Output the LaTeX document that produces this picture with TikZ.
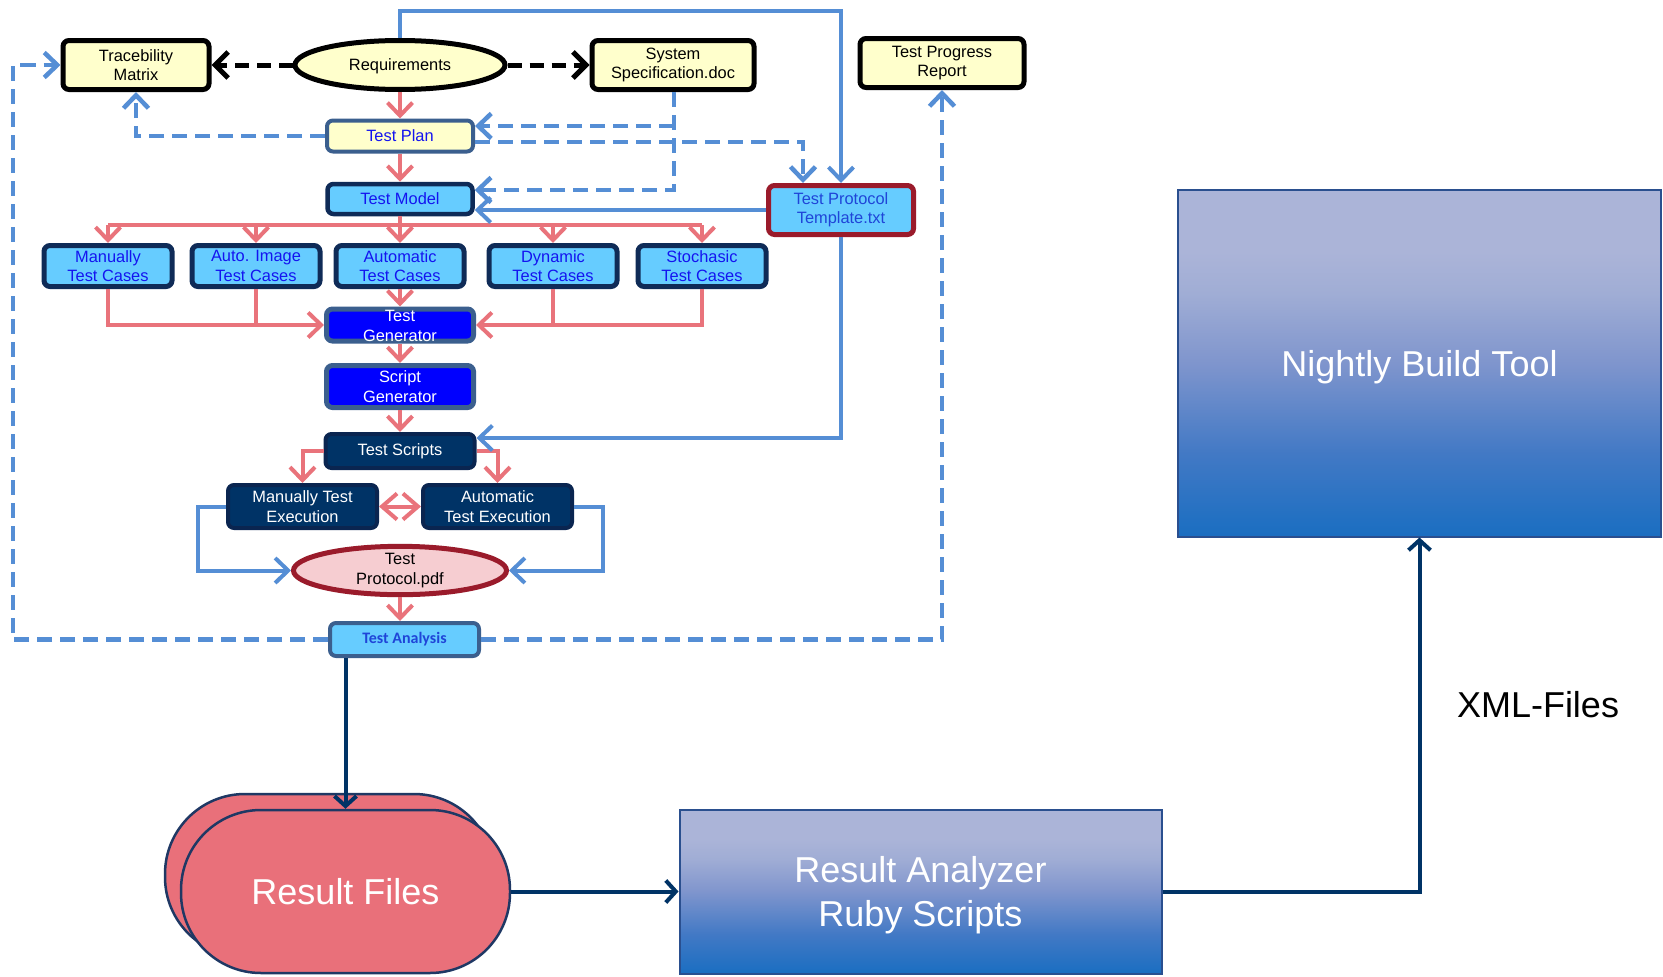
\documentclass[tikz,border=0pt]{standalone}
\usepackage{fontspec}
\setmainfont{Liberation Sans}
\newfontfamily\calfont{Carlito}
\usetikzlibrary{arrows.meta,calc,shapes.geometric}
\definecolor{lyel}{HTML}{FFFFCC}
\definecolor{cyanb}{HTML}{66CCFF}
\definecolor{navyb}{HTML}{0F2B57}
\definecolor{slate}{HTML}{3B5F8E}
\definecolor{pureblue}{HTML}{0000FF}
\definecolor{navyf}{HTML}{003366}
\definecolor{navyd}{HTML}{0A2550}
\definecolor{redc}{HTML}{E9737B}
\definecolor{bluec}{HTML}{558ED5}
\definecolor{dred}{HTML}{9A1B2B}
\definecolor{pinkf}{HTML}{F6CDD1}
\definecolor{tblue}{HTML}{1414F0}
\definecolor{tblue2}{HTML}{1F45D8}
\definecolor{rfill}{HTML}{E9707A}
\definecolor{rborder}{HTML}{1F3864}
\definecolor{arrnavy}{HTML}{003366}
\definecolor{gborder}{HTML}{2A4F8F}
\definecolor{gtop}{HTML}{ABB4D8}
\definecolor{gmidA}{HTML}{A0ADD5}
\definecolor{gmidB}{HTML}{7F95CD}
\definecolor{gmidC}{HTML}{4279C5}
\definecolor{gbot}{HTML}{1A6EC1}
\pgfdeclareverticalshading{nbshade}{100bp}{color(0bp)=(gbot); color(25bp)=(gbot); color(37bp)=(gmidC); color(50bp)=(gmidB); color(60bp)=(gmidA); color(66bp)=(gtop); color(75bp)=(gtop); color(100bp)=(gtop)}
\newcommand\sfn{\fontsize{16.4}{19.5}\selectfont}
\newcommand\bfn{\fontsize{36}{44}\selectfont}
\begin{document}
\begin{tikzpicture}[x=1pt,y=-1pt,
  base/.style={rectangle, rounded corners=6, inner sep=0, align=center, font=\sfn},
  yb/.style={base, draw=black, line width=5, fill=lyel},
  cb/.style={base, draw=navyb, line width=5, fill=cyanb, text=tblue},
  gb/.style={base, draw=slate, line width=5, fill=pureblue, text=white},
  nb/.style={base, draw=navyd, line width=4, fill=navyf, text=white},
  grad/.style={rectangle, draw=gborder, line width=2, shading=nbshade, text=white, font=\bfn, align=center, inner sep=0, text depth=0pt},
  rfs/.style={rectangle, rounded corners=80, draw=rborder, line width=2.5, fill=rfill, minimum width=329, minimum height=163, inner sep=0, text=white, font=\bfn},
  wtxt/.style={inner sep=0, align=center, font=\sfn, text=white},
  kd/.style={draw=black, line width=5, dash pattern=on 14 off 8, -{Straight Barb[length=13,width=26]}},
  rl/.style={draw=redc, line width=4},
  rarr/.style={rl, -{Straight Barb[length=13,width=25]}},
  rdbl/.style={rl, {Straight Barb[length=15,width=26]}-{Straight Barb[length=15,width=26]}},
  bl/.style={draw=bluec, line width=4},
  barr/.style={bl, -{Straight Barb[length=13,width=25]}},
  bdarr/.style={draw=bluec, line width=4.5, dash pattern=on 15 off 8, -{Straight Barb[length=13,width=25]}},
  narr/.style={draw=arrnavy, line width=4, -{Straight Barb[length=10,width=22]}}
]
\fill[white] (0,0) rectangle (1663,977);
\useasboundingbox (0,0) rectangle (1663,977);

% top row
\node[yb, minimum width=146, minimum height=49] (tm) at (136,65) {Tracebility\\Matrix};
\node[ellipse, draw=black, line width=5, fill=lyel, minimum width=210, minimum height=49, inner sep=0, font=\sfn, text depth=0pt] (req) at (400,65) {Requirements};
\node[yb, minimum width=162, minimum height=49] (ss) at (673,65) {System\\Specification.doc};
\node[yb, minimum width=164, minimum height=49] (tpr) at (942,63) {Test Progress\\Report};

\node[base, draw=slate, line width=4, fill=lyel, text=tblue, minimum width=146, minimum height=31] (tp) at (400,136) {Test Plan};
\node[base, draw=navyb, line width=4.5, fill=cyanb, text=tblue, minimum width=145, minimum height=30] (tmod) at (400,199) {Test Model};
\node[base, draw=dred, line width=5, fill=cyanb, text=tblue2, minimum width=145, minimum height=49] (tpt) at (841,210) {Test Protocol\\Template.txt};

% test cases
\node[cb, minimum width=128, minimum height=41] (tc1) at (108,266) {Manually\\Test Cases};
\node[cb, minimum width=128, minimum height=41] (tc2) at (256,266) {Auto. Image\\Test Cases};
\node[cb, minimum width=128, minimum height=41] (tc3) at (400,266) {Automatic\\Test Cases};
\node[cb, minimum width=128, minimum height=41] (tc4) at (553,266) {Dynamic\\Test Cases};
\node[cb, minimum width=128, minimum height=41] (tc5) at (702,266) {Stochasic\\Test Cases};

\node[gb, minimum width=147, minimum height=32] (tg) at (400,325) {};
\node[wtxt] (tgt) at (400,326) {Test\\Generator};
\node[gb, minimum width=147, minimum height=42] (sg) at (400,386.5) {Script\\Generator};
\node[nb, minimum width=149, minimum height=34] (ts) at (400,451) {Test Scripts};
\node[nb, minimum width=149, minimum height=43] (mte) at (302.5,506.5) {Manually Test\\Execution};
\node[nb, minimum width=149, minimum height=43] (ate) at (497.5,506.5) {Automatic\\Test Execution};
\node[ellipse, draw=dred, line width=5, fill=pinkf, minimum width=213, minimum height=46, inner sep=0, align=center, font=\sfn] (tpdf) at (400,570.5) {Test\\Protocol.pdf};
\node[base, draw=slate, line width=4, fill=cyanb, text=tblue2, minimum width=149, minimum height=33, font=\calfont\bfseries\fontsize{16}{18}\selectfont] (ta) at (404.5,639.5) {Test Analysis};

% bottom part
\node[rfs] (rfb) at (329.5,875.5) {};
\node[rfs] (rf) at (345.5,891.5) {Result Files};
\node[grad, minimum width=482, minimum height=164] (ra) at (920.5,891.5) {Result Analyzer\\Ruby Scripts};
\node[grad, minimum width=483, minimum height=347] (nbt) at (1419.5,363) {Nightly Build Tool};
\node[inner sep=0, font=\bfn, text=black] (xml) at (1538,705) {XML-Files};

% black dashed
\draw[kd] (req.west) -- (tm.east);
\draw[kd] (req.east) -- (ss.west);

% red flow
\draw[rarr] (req.south) -- (tp.north);
\draw[rarr] (tp.south) -- (tmod.north);
\coordinate (bus) at (400,225);
\draw[rl] (tmod.south) -- (bus);
\draw[rl] (tc1.north |- bus) -- (tc5.north |- bus);
\foreach \i in {1,...,5} \draw[rarr] (tc\i.north |- bus) -- (tc\i.north);
\draw[rarr] (tc1.south) |- (tg.west);
\draw[rl] (tc2.south) -- (tc2.south |- tg.west);
\draw[rarr] (tc3.south) -- (tg.north);
\draw[rarr] (tc5.south) |- (tg.east);
\draw[rl] (tc4.south) -- (tc4.south |- tg.east);
\draw[rarr] (tg.south) -- (sg.north);
\draw[rarr] (sg.south) -- (ts.north);
\draw[rarr] (ts.west) -| (mte.north);
\draw[rarr] (ts.east) -| (ate.north);
\draw[rdbl] (mte.east) -- (ate.west);
\draw[rarr] (tpdf.south) -- (tpdf.south |- ta.north);

% blue solid
\coordinate (topc) at (400,11);
\draw[barr] (req.north) -- (topc) -| (tpt.north);
\draw[barr] (tpt.west) -- (tpt.west -| tmod.east);
\coordinate (tsj) at (841,438);
\draw[barr] (tpt.south) -- (tsj) -- (tsj -| ts.east);
\coordinate (ml) at (198,0);
\draw[barr] (mte.west) -- (mte.west -| ml) |- (tpdf.west);
\coordinate (mr) at (603,0);
\draw[barr] (ate.east) -- (ate.east -| mr) |- (tpdf.east);

% blue dashed
\draw[bdarr] (tp.west) -| (tm.south);
\coordinate (ssj) at (674,190);
\draw[bdarr] (ss.south -| ssj) -- (ssj) -- (ssj -| tmod.east);
\coordinate (ssk) at (674,126);
\draw[bdarr] (ssk) -- (ssk -| tp.east);
\coordinate (tpe) at ($(tp.east)+(0,6)$);
\draw[bdarr] (tpe) -| ([xshift=-38pt]tpt.north);
\coordinate (lc) at (13,65);
\draw[bdarr] (ta.west) -| (lc) -- (tm.west);
\draw[bdarr] (ta.east) -| (tpr.south);

% navy
\draw[narr] (ta.south -| rf.north) -- (rf.north);
\draw[narr] (rf.east) -- (rf.east -| ra.west);
\draw[narr] (ra.east) -| (nbt.south);
\end{tikzpicture}
\end{document}
